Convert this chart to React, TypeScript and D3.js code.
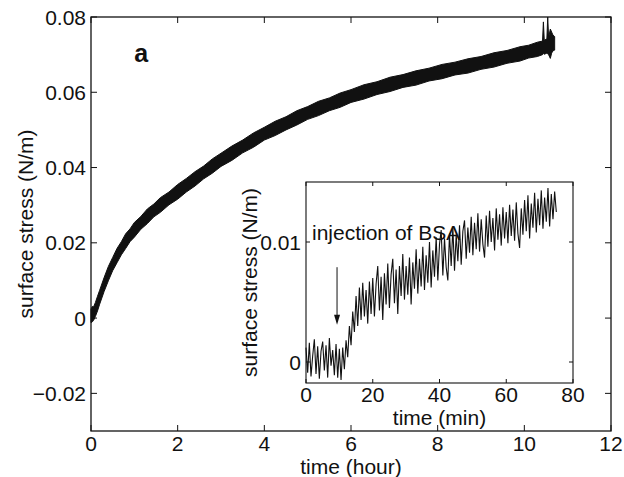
import React from "react";
import * as d3 from "d3";

// main trace (hours) read as a lower / upper envelope of the noisy band
const mainTime = [0, 0.03, 0.06, 0.1, 0.15, 0.2, 0.3, 0.4, 0.5, 0.6, 0.7, 0.8, 0.9, 1.0, 1.15, 1.3, 1.45, 1.6, 1.8, 2.0, 2.2, 2.4, 2.6, 2.8, 3.0, 3.25, 3.5, 3.75, 4.0, 4.25, 4.5, 4.75, 5.0, 5.25, 5.5, 5.75, 6.0, 6.3, 6.6, 6.9, 7.2, 7.5, 7.8, 8.1, 8.4, 8.7, 9.0, 9.3, 9.6, 9.9, 10.1, 10.3, 10.42, 10.44, 10.46, 10.52, 10.54, 10.56, 10.6, 10.63, 10.66, 10.7];
const mainLow = [-0.0012, -0.001, -0.0006, 0.0004, 0.0019, 0.0037, 0.007, 0.0099, 0.0126, 0.0147, 0.0168, 0.0185, 0.0203, 0.0215, 0.0236, 0.0251, 0.0269, 0.0281, 0.0301, 0.0316, 0.0335, 0.0351, 0.037, 0.0385, 0.0403, 0.0419, 0.0439, 0.0454, 0.0473, 0.0485, 0.05, 0.0513, 0.0528, 0.0538, 0.0551, 0.056, 0.0573, 0.0582, 0.0594, 0.0602, 0.0613, 0.0619, 0.063, 0.0636, 0.0646, 0.0651, 0.0661, 0.0667, 0.0677, 0.0683, 0.0691, 0.0695, 0.07, 0.0703, 0.0701, 0.0704, 0.0702, 0.07, 0.069, 0.0704, 0.071, 0.0712];
const mainHigh = [0.0024, 0.0031, 0.003, 0.0041, 0.0058, 0.0074, 0.0107, 0.0137, 0.0161, 0.0185, 0.0203, 0.0224, 0.0237, 0.0254, 0.027, 0.029, 0.0303, 0.032, 0.0335, 0.0355, 0.0371, 0.0389, 0.0404, 0.0423, 0.0438, 0.0457, 0.0473, 0.0492, 0.0507, 0.0523, 0.0535, 0.0551, 0.0562, 0.0576, 0.0585, 0.0598, 0.0607, 0.062, 0.0628, 0.064, 0.0647, 0.0657, 0.0664, 0.0674, 0.068, 0.0689, 0.0695, 0.0705, 0.0711, 0.0721, 0.0725, 0.0733, 0.0736, 0.0787, 0.0738, 0.0742, 0.08, 0.0745, 0.0768, 0.076, 0.0752, 0.0748];
const mainXTicks = [0, 2, 4, 6, 8, 10, 12];
const mainYTicks = [-0.02, 0, 0.02, 0.04, 0.06, 0.08];

// inset trace (minutes)
const insetTime = [0, 0.5, 1, 1.5, 2, 2.5, 3, 3.5, 4, 4.5, 5, 5.5, 6, 6.5, 7, 7.5, 8, 8.5, 9, 9.5, 10, 10.5, 11, 11.5, 12, 12.5, 13, 13.5, 14, 14.5, 15, 15.5, 16, 16.5, 17, 17.5, 18, 18.5, 19, 19.5, 20, 20.5, 21, 21.5, 22, 22.5, 23, 23.5, 24, 24.5, 25, 25.5, 26, 26.5, 27, 27.5, 28, 28.5, 29, 29.5, 30, 30.5, 31, 31.5, 32, 32.5, 33, 33.5, 34, 34.5, 35, 35.5, 36, 36.5, 37, 37.5, 38, 38.5, 39, 39.5, 40, 40.5, 41, 41.5, 42, 42.5, 43, 43.5, 44, 44.5, 45, 45.5, 46, 46.5, 47, 47.5, 48, 48.5, 49, 49.5, 50, 50.5, 51, 51.5, 52, 52.5, 53, 53.5, 54, 54.5, 55, 55.5, 56, 56.5, 57, 57.5, 58, 58.5, 59, 59.5, 60, 60.5, 61, 61.5, 62, 62.5, 63, 63.5, 64, 64.5, 65, 65.5, 66, 66.5, 67, 67.5, 68, 68.5, 69, 69.5, 70, 70.5, 71, 71.5, 72, 72.5, 73, 73.5, 74, 74.5, 75];
const insetStress = [
  0.0012, -0.0009, 0.0016, -0.0012, 0.0005, 0.0019, -0.001, 0.0013, -0.0014, 0.0009,
  0.0017, -0.0007, 0.0014, -0.0013, 0.002, -0.0003, 0.001, -0.0011, 0.0015, -0.0013,
  0.0011, -0.0015, 0.0012, -0.0006, 0.0018, 0.0004, 0.003, 0.0014, 0.0042, 0.0025,
  0.0055, 0.003, 0.0062, 0.0035, 0.0066, 0.0038, 0.006, 0.0032, 0.0067, 0.004,
  0.007, 0.0038, 0.0065, 0.008, 0.0043, 0.0071, 0.0035, 0.0074, 0.0048, 0.0082,
  0.0045, 0.0073, 0.0086, 0.0049, 0.0077, 0.004, 0.008, 0.0055, 0.009, 0.0052,
  0.008, 0.0056, 0.0087, 0.0048, 0.0083, 0.0061, 0.0094, 0.0057, 0.0086, 0.0063,
  0.0096, 0.006, 0.0089, 0.0066, 0.01, 0.0062, 0.0093, 0.0071, 0.0104, 0.0068,
  0.0098, 0.011, 0.0072, 0.0103, 0.0079, 0.0068, 0.0107, 0.008, 0.0112, 0.0076,
  0.0106, 0.0084, 0.0114, 0.0081, 0.0109, 0.0118, 0.0086, 0.0112, 0.0091, 0.0121,
  0.0089, 0.0116, 0.0094, 0.0124, 0.0092, 0.0119, 0.0098, 0.0087, 0.0122, 0.0096,
  0.0126, 0.01, 0.012, 0.0093, 0.0128, 0.0102, 0.0123, 0.0097, 0.0129, 0.0103,
  0.0125, 0.0099, 0.0131, 0.0105, 0.0127, 0.0101, 0.0133, 0.0107, 0.0095, 0.0128,
  0.0106, 0.0135, 0.0109, 0.0139, 0.0103, 0.0132, 0.0112, 0.0141, 0.0108, 0.0136,
  0.0114, 0.0143, 0.0111, 0.0137, 0.0117, 0.0145, 0.0113, 0.014, 0.0119, 0.0142,
  0.0125,
];
const insetXTicks = [0, 20, 40, 60, 80];
const insetYTicks = [0, 0.01];

// injection marker (minutes, N/m)
const injectionTime = 9.3;
const arrowFrom = 0.0079;
const arrowTo = 0.0031;

const font = "'Liberation Sans', Arial, Helvetica, sans-serif";
const ink = "#111";
const fs = 21;

const fmtMain = (v: number) => (v === 0 ? "0" : d3.format(".2f")(v).replace("-", "\u2212"));
const fmtInset = (v: number) => (v === 0 ? "0" : d3.format(".2f")(v));

export default function App() {
  // main axes
  const x = d3.scaleLinear().domain([0, 12]).range([91, 611]);
  const y = d3.scaleLinear().domain([-0.03, 0.08]).range([431, 17]);
  // inset axes
  const ix = d3.scaleLinear().domain([0, 80]).range([306, 573]);
  const iy = d3.scaleLinear().domain([-0.00175, 0.015]).range([383, 182]);

  const band = d3
    .area<number>()
    .x((_, i) => x(mainTime[i]))
    .y0((_, i) => y(mainLow[i]))
    .y1((_, i) => y(mainHigh[i]));

  const insetLine = d3
    .line<number>()
    .x((_, i) => ix(insetTime[i]))
    .y((d) => iy(d));

  const [x0, x1] = x.range();
  const [yb, yt] = y.range();
  const [ix0, ix1] = ix.range();
  const [iyb, iyt] = iy.range();
  const tk = 6;
  const itk = 4;

  return (
    <svg
      width={624}
      height={477}
      style={{ position: "absolute", left: 0, top: 0, background: "#fff" }}
      fontFamily={font}
    >
      <rect width={624} height={477} fill="#fff" />

      {/* main trace */}
      <path d={band(mainTime) || ""} fill={ink} stroke={ink} strokeWidth={1} />

      {/* main box + ticks */}
      <rect x={x0} y={yt} width={x1 - x0} height={yb - yt} fill="none" stroke={ink} strokeWidth={1.3} />
      {mainXTicks.map((t) => (
        <g key={"mx" + t}>
          <line x1={x(t)} x2={x(t)} y1={yb} y2={yb - tk} stroke={ink} />
          <line x1={x(t)} x2={x(t)} y1={yt} y2={yt + tk} stroke={ink} />
          <text x={x(t)} y={451} fontSize={fs} textAnchor="middle" fill={ink}>
            {t}
          </text>
        </g>
      ))}
      {mainYTicks.map((v) => (
        <g key={"my" + v}>
          <line x1={x0} x2={x0 + tk} y1={y(v)} y2={y(v)} stroke={ink} />
          <line x1={x1} x2={x1 - tk} y1={y(v)} y2={y(v)} stroke={ink} />
          <text x={86} y={y(v)} dy="0.36em" fontSize={fs} textAnchor="end" fill={ink}>
            {fmtMain(v)}
          </text>
        </g>
      ))}
      <text x={(x0 + x1) / 2} y={474} fontSize={fs} textAnchor="middle" fill={ink}>
        time (hour)
      </text>
      <text
        transform={`translate(33,${(yb + yt) / 2}) rotate(-90)`}
        fontSize={fs}
        textAnchor="middle"
        fill={ink}
      >
        surface stress (N/m)
      </text>
      <text x={x(1)} y={y(0.068)} fontSize={25} fontWeight="bold" fill={ink}>
        a
      </text>

      {/* inset */}
      <rect x={ix0} y={iyt} width={ix1 - ix0} height={iyb - iyt} fill="#fff" />
      <path d={insetLine(insetStress) || ""} fill="none" stroke={ink} strokeWidth={1.1} />
      <rect x={ix0} y={iyt} width={ix1 - ix0} height={iyb - iyt} fill="none" stroke={ink} strokeWidth={1.1} />
      {insetXTicks.map((t) => (
        <g key={"ix" + t}>
          <line x1={ix(t)} x2={ix(t)} y1={iyb} y2={iyb - itk} stroke={ink} />
          <line x1={ix(t)} x2={ix(t)} y1={iyt} y2={iyt + itk} stroke={ink} />
          <text x={ix(t)} y={402} fontSize={fs} textAnchor="middle" fill={ink}>
            {t}
          </text>
        </g>
      ))}
      {insetYTicks.map((v) => (
        <g key={"iy" + v}>
          <line x1={ix0} x2={ix0 + itk} y1={iy(v)} y2={iy(v)} stroke={ink} />
          <line x1={ix1} x2={ix1 - itk} y1={iy(v)} y2={iy(v)} stroke={ink} />
          <text x={301} y={iy(v)} dy="0.36em" fontSize={fs} textAnchor="end" fill={ink}>
            {fmtInset(v)}
          </text>
        </g>
      ))}
      <text x={(ix0 + ix1) / 2} y={425} fontSize={fs} textAnchor="middle" fill={ink}>
        time (min)
      </text>
      <text
        transform={`translate(257,${(iyb + iyt) / 2}) rotate(-90)`}
        fontSize={fs}
        textAnchor="middle"
        fill={ink}
      >
        surface stress (N/m)
      </text>

      {/* injection annotation */}
      <text x={ix(1.8)} y={iy(0.0102)} fontSize={fs} fill={ink}>
        injection of BSA
      </text>
      <line
        x1={ix(injectionTime)}
        x2={ix(injectionTime)}
        y1={iy(arrowFrom)}
        y2={iy(arrowTo) - 8}
        stroke={ink}
        strokeWidth={1}
      />
      <path
        d={`M${ix(injectionTime) - 3},${iy(arrowTo) - 10} L${ix(injectionTime) + 3},${iy(arrowTo) - 10} L${ix(injectionTime)},${iy(arrowTo)} Z`}
        fill={ink}
      />
    </svg>
  );
}
